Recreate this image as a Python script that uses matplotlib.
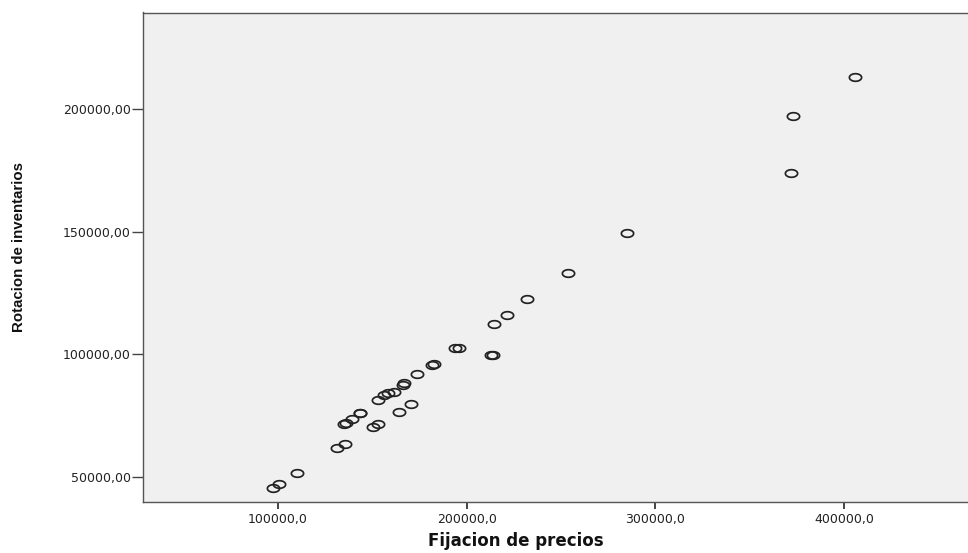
import numpy as np
import matplotlib
matplotlib.use("Agg")
import matplotlib.pyplot as plt
from matplotlib.path import Path
from matplotlib import font_manager

# ---- data ----
fijacion_precios = [
    405800, 372900, 371900, 284900, 253700, 232000, 221400, 214500,
    193800, 195900, 213000, 213800, 181800, 182800, 173700, 166500,
    167000, 161500, 158300, 156200, 153000, 170500, 164100, 143200,
    143700, 139200, 135000, 136000, 153000, 150300, 135500, 131300,
    110100, 100500, 97400,
]
rotacion_inventarios = [
    213000, 197100, 173900, 149500, 133200, 122700, 116000, 112400,
    102600, 102400, 99900, 99600, 95500, 95900, 92000, 87500,
    88400, 84600, 84200, 83400, 81400, 79800, 76500, 76000,
    76200, 73600, 71800, 72200, 71600, 70400, 63500, 61800,
    51600, 47200, 45500,
]
x_ticks = [100000, 200000, 300000, 400000]
x_tick_labels = ["100000,0", "200000,0", "300000,0", "400000,0"]
y_ticks = [50000, 100000, 150000, 200000]
y_tick_labels = ["50000,00", "100000,00", "150000,00", "200000,00"]
x_title = "Fijacion de precios"
y_title = "Rotacion de inventarios"

# ---- figure ----
W, H = 968, 553
fig = plt.figure(figsize=(W / 100, H / 100), dpi=100)
fig.patch.set_facecolor("white")

left_px, right_px, top_px, bottom_px = 143, 968, 12.5, 502
ax = fig.add_axes([left_px / W, 1 - bottom_px / H,
                   (right_px - left_px) / W, (bottom_px - top_px) / H])
ax.set_facecolor("#f0f0f0")

# ellipse-shaped open marker (reference is horizontally stretched)
t = np.linspace(0, 2 * np.pi, 73)
ell = Path(np.column_stack([np.cos(t), 0.62 * np.sin(t)]), closed=True)

ax.plot(fijacion_precios, rotacion_inventarios, linestyle="none",
        marker=ell, markersize=8.8, markerfacecolor="none",
        markeredgecolor="#222222", markeredgewidth=1.25)

ax.set_xlim(28460, 465660)
ax.set_ylim(39810, 239330)

ax.set_xticks(x_ticks)
ax.set_xticklabels(x_tick_labels)
ax.set_yticks(y_ticks)
ax.set_yticklabels(y_tick_labels)

for lab in ax.get_xticklabels() + ax.get_yticklabels():
    lab.set_fontfamily("DejaVu Sans")
    lab.set_fontsize(9)
    lab.set_color("#222222")

ax.tick_params(axis="x", length=5, width=1.4, pad=3, color="#444444")
ax.tick_params(axis="y", length=8, width=1.0, pad=1, color="#444444")

for side in ["left", "bottom", "top"]:
    ax.spines[side].set_color("#555555")
    ax.spines[side].set_linewidth(1.0)
ax.spines["right"].set_visible(False)

names = {f.name for f in font_manager.fontManager.ttflist}
yfam = "Liberation Sans" if "Liberation Sans" in names else "DejaVu Sans"

ax.set_xlabel(x_title, fontsize=12, fontweight="bold", family="DejaVu Sans",
              color="#111111")
ax.set_ylabel(y_title, fontsize=10.8, fontweight="bold", family=yfam,
              color="#111111")
ax.xaxis.set_label_coords((516 - left_px) / (right_px - left_px),
                          (bottom_px - 532) / (bottom_px - top_px))
ax.yaxis.set_label_coords((26 - left_px) / (right_px - left_px),
                          (bottom_px - 247) / (bottom_px - top_px))

fig.savefig("out.png", dpi=100, facecolor="white")
